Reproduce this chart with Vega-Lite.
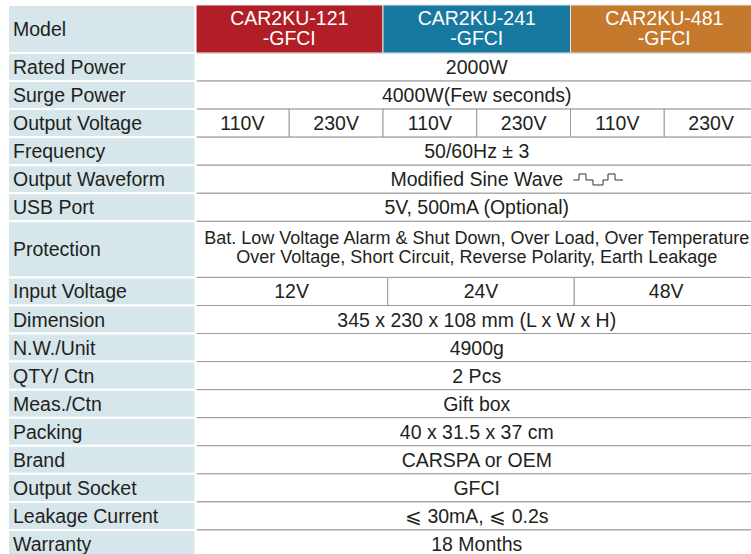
{
  "$schema": "https://vega.github.io/schema/vega-lite/v6.json",
  "width": 750,
  "height": 553,
  "autosize": {"type": "none"},
  "padding": {"left": 8, "top": 5, "right": 0, "bottom": 0},
  "background": "#ffffff",
  "config": {"view": {"stroke": null}, "font": "Liberation Sans"},
  "datasets": {
    "labels": [
      {"label": "Model", "r0": 0, "r1": 1.71},
      {"label": "Rated Power", "r0": 1.71, "r1": 2.71},
      {"label": "Surge Power", "r0": 2.71, "r1": 3.71},
      {"label": "Output Voltage", "r0": 3.71, "r1": 4.71},
      {"label": "Frequency", "r0": 4.71, "r1": 5.71},
      {"label": "Output Waveform", "r0": 5.71, "r1": 6.71},
      {"label": "USB Port", "r0": 6.71, "r1": 7.71},
      {"label": "Protection", "r0": 7.71, "r1": 9.71},
      {"label": "Input Voltage", "r0": 9.71, "r1": 10.71},
      {"label": "Dimension", "r0": 10.71, "r1": 11.71},
      {"label": "N.W./Unit", "r0": 11.71, "r1": 12.71},
      {"label": "QTY/ Ctn", "r0": 12.71, "r1": 13.71},
      {"label": "Meas./Ctn", "r0": 13.71, "r1": 14.71},
      {"label": "Packing", "r0": 14.71, "r1": 15.71},
      {"label": "Brand", "r0": 15.71, "r1": 16.71},
      {"label": "Output Socket", "r0": 16.71, "r1": 17.71},
      {"label": "Leakage Current", "r0": 17.71, "r1": 18.71},
      {"label": "Warranty", "r0": 18.71, "r1": 19.71}
    ],
    "headers": [
      {"text": "CAR2KU-121\n-GFCI", "model": "121", "c0": 2, "c1": 4, "r0": 0, "r1": 1.71},
      {"text": "CAR2KU-241\n-GFCI", "model": "241", "c0": 4, "c1": 6, "r0": 0, "r1": 1.71},
      {"text": "CAR2KU-481\n-GFCI", "model": "481", "c0": 6, "c1": 8, "r0": 0, "r1": 1.71}
    ],
    "cells": [
      {"text": "2000W", "c0": 2, "c1": 8, "r0": 1.71, "r1": 2.71},
      {"text": "4000W(Few seconds)", "c0": 2, "c1": 8, "r0": 2.71, "r1": 3.71},
      {"text": "110V", "c0": 2, "c1": 3, "r0": 3.71, "r1": 4.71},
      {"text": "230V", "c0": 3, "c1": 4, "r0": 3.71, "r1": 4.71},
      {"text": "110V", "c0": 4, "c1": 5, "r0": 3.71, "r1": 4.71},
      {"text": "230V", "c0": 5, "c1": 6, "r0": 3.71, "r1": 4.71},
      {"text": "110V", "c0": 6, "c1": 7, "r0": 3.71, "r1": 4.71},
      {"text": "230V", "c0": 7, "c1": 8, "r0": 3.71, "r1": 4.71},
      {"text": "50/60Hz ± 3", "c0": 2, "c1": 8, "r0": 4.71, "r1": 5.71},
      {"text": "Modified Sine Wave", "c0": 2, "c1": 8, "r0": 5.71, "r1": 6.71},
      {"text": "5V, 500mA (Optional)", "c0": 2, "c1": 8, "r0": 6.71, "r1": 7.71},
      {"text": "Bat. Low Voltage Alarm & Shut Down, Over Load, Over Temperature\nOver Voltage, Short Circuit, Reverse Polarity, Earth Leakage", "c0": 2, "c1": 8, "r0": 7.71, "r1": 9.71},
      {"text": "12V", "c0": 2, "c1": 4.05, "r0": 9.71, "r1": 10.71},
      {"text": "24V", "c0": 4.05, "c1": 6.04, "r0": 9.71, "r1": 10.71},
      {"text": "48V", "c0": 6.04, "c1": 8, "r0": 9.71, "r1": 10.71},
      {"text": "345 x 230 x 108 mm (L x W x H)", "c0": 2, "c1": 8, "r0": 10.71, "r1": 11.71},
      {"text": "4900g", "c0": 2, "c1": 8, "r0": 11.71, "r1": 12.71},
      {"text": "2 Pcs", "c0": 2, "c1": 8, "r0": 12.71, "r1": 13.71},
      {"text": "Gift box", "c0": 2, "c1": 8, "r0": 13.71, "r1": 14.71},
      {"text": "40 x 31.5 x 37 cm", "c0": 2, "c1": 8, "r0": 14.71, "r1": 15.71},
      {"text": "CARSPA or OEM", "c0": 2, "c1": 8, "r0": 15.71, "r1": 16.71},
      {"text": "GFCI", "c0": 2, "c1": 8, "r0": 16.71, "r1": 17.71},
      {"text": "⩽ 30mA, ⩽ 0.2s", "c0": 2, "c1": 8, "r0": 17.71, "r1": 18.71},
      {"text": "18 Months", "c0": 2, "c1": 8, "r0": 18.71, "r1": 19.71}
    ],
    "wave": [
      {"i": 0, "x": 6.030, "y": 6.237},
      {"i": 1, "x": 6.091, "y": 6.237},
      {"i": 2, "x": 6.091, "y": 6.023},
      {"i": 3, "x": 6.165, "y": 6.023},
      {"i": 4, "x": 6.165, "y": 6.237},
      {"i": 5, "x": 6.240, "y": 6.237},
      {"i": 6, "x": 6.240, "y": 6.415},
      {"i": 7, "x": 6.347, "y": 6.415},
      {"i": 8, "x": 6.347, "y": 6.237},
      {"i": 9, "x": 6.400, "y": 6.237},
      {"i": 10, "x": 6.400, "y": 6.023},
      {"i": 11, "x": 6.475, "y": 6.023},
      {"i": 12, "x": 6.475, "y": 6.237},
      {"i": 13, "x": 6.560, "y": 6.237}
    ]
  },
  "layer": [
    {
      "data": {"name": "cells"},
      "mark": {"type": "rect", "fill": "#ffffff", "stroke": "#9a9a9a", "strokeWidth": 1},
      "encoding": {
        "x": {"field": "c0", "type": "quantitative", "scale": {"domain": [0, 8], "range": [0, 750], "nice": false, "zero": false}, "axis": null},
        "x2": {"field": "c1"},
        "y": {"field": "r0", "type": "quantitative", "scale": {"domain": [0, 19.71], "range": [0, 553], "nice": false, "zero": false}, "axis": null},
        "y2": {"field": "r1"}
      }
    },
    {
      "data": {"name": "headers"},
      "mark": {"type": "rect", "stroke": "#e4e8ea", "strokeWidth": 1},
      "encoding": {
        "x": {"field": "c0", "type": "quantitative", "axis": null},
        "x2": {"field": "c1"},
        "y": {"field": "r0", "type": "quantitative", "axis": null},
        "y2": {"field": "r1"},
        "fill": {"field": "model", "type": "nominal", "scale": {"domain": ["121", "241", "481"], "range": ["#b21e26", "#17799f", "#c4792d"]}, "legend": null}
      }
    },
    {
      "data": {"name": "labels"},
      "mark": {"type": "rect", "fill": "#d6e6ea", "stroke": "#ffffff", "strokeWidth": 2},
      "encoding": {
        "x": {"datum": 0, "type": "quantitative", "axis": null},
        "x2": {"datum": 2},
        "y": {"field": "r0", "type": "quantitative", "axis": null},
        "y2": {"field": "r1"}
      }
    },
    {
      "data": {"name": "labels"},
      "transform": [{"calculate": "(datum.r0 + datum.r1) / 2", "as": "ym"}],
      "mark": {"type": "text", "align": "left", "baseline": "middle", "dx": 5, "dy": 1, "fontSize": 19.5, "color": "#231f20", "font": "Liberation Sans"},
      "encoding": {
        "x": {"datum": 0, "type": "quantitative", "axis": null},
        "y": {"field": "ym", "type": "quantitative", "axis": null},
        "text": {"field": "label"}
      }
    },
    {
      "data": {"name": "cells"},
      "transform": [
        {"filter": "datum.r1 - datum.r0 < 1.5"},
        {"calculate": "(datum.r0 + datum.r1) / 2", "as": "ym"},
        {"calculate": "(datum.c0 + datum.c1) / 2", "as": "xm"}
      ],
      "mark": {"type": "text", "align": "center", "baseline": "middle", "dy": 1, "fontSize": 19.5, "color": "#231f20", "font": "Liberation Sans"},
      "encoding": {
        "x": {"field": "xm", "type": "quantitative", "axis": null},
        "y": {"field": "ym", "type": "quantitative", "axis": null},
        "text": {"field": "text"}
      }
    },
    {
      "data": {"name": "cells"},
      "transform": [
        {"filter": "datum.r1 - datum.r0 >= 1.5"},
        {"calculate": "(datum.r0 + datum.r1) / 2", "as": "ym"},
        {"calculate": "(datum.c0 + datum.c1) / 2", "as": "xm"}
      ],
      "mark": {"type": "text", "align": "center", "baseline": "middle", "dy": -10, "lineBreak": "\n", "lineHeight": 19, "fontSize": 18, "color": "#231f20", "font": "Liberation Sans"},
      "encoding": {
        "x": {"field": "xm", "type": "quantitative", "axis": null},
        "y": {"field": "ym", "type": "quantitative", "axis": null},
        "text": {"field": "text"}
      }
    },
    {
      "data": {"name": "headers"},
      "transform": [
        {"calculate": "(datum.r0 + datum.r1) / 2", "as": "ym"},
        {"calculate": "(datum.c0 + datum.c1) / 2", "as": "xm"}
      ],
      "mark": {"type": "text", "align": "center", "baseline": "middle", "dy": -10, "lineBreak": "\n", "lineHeight": 20, "fontSize": 19.5, "color": "#ffffff", "font": "Liberation Sans"},
      "encoding": {
        "x": {"field": "xm", "type": "quantitative", "axis": null},
        "y": {"field": "ym", "type": "quantitative", "axis": null},
        "text": {"field": "text"}
      }
    },
    {
      "data": {"name": "wave"},
      "mark": {"type": "line", "color": "#333333", "strokeWidth": 1, "interpolate": "linear"},
      "encoding": {
        "x": {"field": "x", "type": "quantitative", "axis": null},
        "y": {"field": "y", "type": "quantitative", "axis": null},
        "order": {"field": "i"}
      }
    }
  ]
}
